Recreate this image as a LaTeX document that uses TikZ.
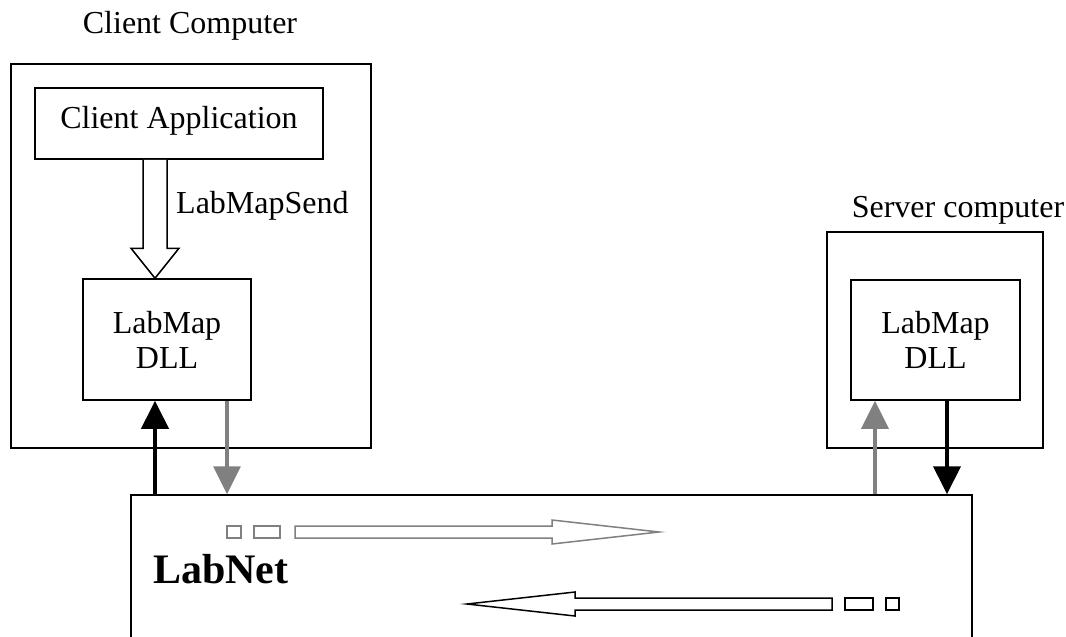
\documentclass[tikz,border=0pt]{standalone}
\usepackage{fontspec}
\setmainfont{Liberation Serif}
\usetikzlibrary{arrows.meta,calc}
\definecolor{netgray}{RGB}{128,128,128}
\tikzset{
  box/.style={draw=black, line width=1.5pt, fill=white, rectangle, inner sep=0pt,
    font=\fontsize{32}{35}\selectfont, align=center},
  lbl/.style={inner sep=0pt, font=\fontsize{32}{35}\selectfont},
  blkarrow/.style={draw=black, line width=4pt, -{Triangle[length=28pt,width=27pt]}},
  grayarrow/.style={draw=netgray, line width=3.5pt, -{Triangle[length=28pt,width=27pt]}},
  hollowblack/.style={draw=black, line width=1.5pt, fill=white, line join=miter},
  hollowgray/.style={draw=netgray, line width=1.5pt, fill=white, line join=miter},
}
\begin{document}
\begin{tikzpicture}[x=1pt,y=1pt]
\useasboundingbox (0,0) rectangle (1066,-637);
\clip (0,0) rectangle (1066,-637);
\fill[white] (0,0) rectangle (1066,-637);

% client side
\node[lbl, anchor=base] (cclabel) at (190,-33) {Client Computer};
\node[box, minimum width=360, minimum height=384] (cc) at (191,-256) {};
\node[box, minimum width=288, minimum height=71, text height=22pt, text depth=13pt] (ca) at (179,-123.5) {Client Application};
\node[box, minimum width=168, minimum height=121] (cdll) at (167,-339.5) {LabMap\\DLL};
\node[lbl, anchor=base west] (sendlabel) at (176,-213) {LabMapSend};

% server side
\node[lbl, anchor=base] (sclabel) at (958,-217) {Server computer};
\node[box, minimum width=216, minimum height=216] (sc) at (935,-340) {};
\node[box, minimum width=169, minimum height=120] (sdll) at (935.5,-340) {LabMap\\DLL};

% LabNet
\node[box, minimum width=841, minimum height=200] (lnet) at (551.5,-595) {};
\node[inner sep=0pt, anchor=base west, font=\fontsize{42}{46}\selectfont\bfseries] (lnlabel) at (153,-583) {LabNet};

% LabMapSend hollow arrow
\coordinate (x1) at (155,0);
\coordinate (hs) at (ca.south -| x1);
\coordinate (ht) at (cdll.north -| x1);
\draw[hollowblack] ($(hs)+(-12,0)$) -- ($(ht)+(-12,30)$) -- ($(ht)+(-24,30)$) -- (ht)
  -- ($(ht)+(24,30)$) -- ($(ht)+(12,30)$) -- ($(hs)+(12,0)$);

% vertical connectors
\coordinate (x2) at (227,0);
\coordinate (x3) at (875,0);
\coordinate (x4) at (947,0);
\draw[blkarrow] (lnet.north -| x1) -- (cdll.south -| x1);
\draw[grayarrow] (cdll.south -| x2) -- (lnet.north -| x2);
\draw[grayarrow] (lnet.north -| x3) -- (sdll.south -| x3);
\draw[blkarrow] (sdll.south -| x4) -- (lnet.north -| x4);

% packets travelling right (gray)
\draw[hollowgray] (227,-526) rectangle (241,-538);
\draw[hollowgray] (254,-526) rectangle (280,-538);
\draw[hollowgray] (295,-526) -- (552,-526) -- (552,-520) -- (659,-532) -- (552,-544)
  -- (552,-538) -- (295,-538) -- cycle;

% packets travelling left (black)
\draw[hollowblack] (832,-598) -- (575,-598) -- (575,-592) -- (467,-604) -- (575,-616)
  -- (575,-610) -- (832,-610) -- cycle;
\draw[hollowblack] (845,-598) rectangle (873,-610);
\draw[hollowblack] (886,-598) rectangle (899,-610);
\end{tikzpicture}
\end{document}
